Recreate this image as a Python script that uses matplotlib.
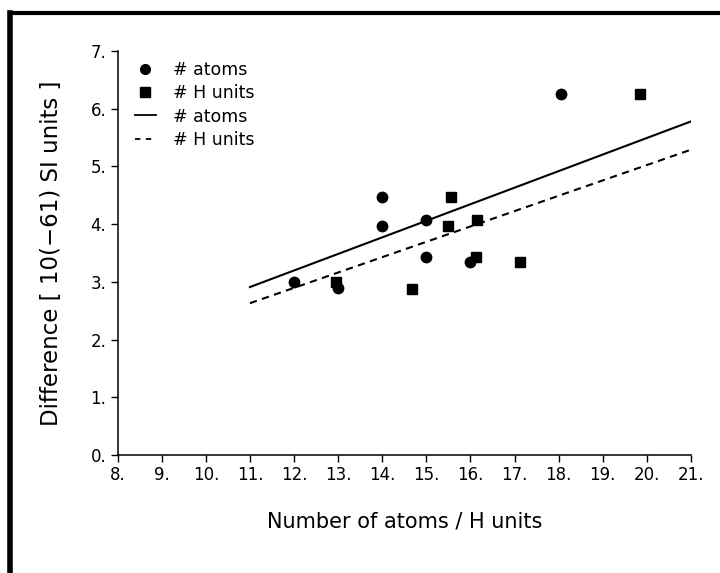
import matplotlib
matplotlib.use("Agg")
import matplotlib.pyplot as plt
from matplotlib.lines import Line2D

# data
atoms_x = [12.0, 13.0, 14.0, 14.0, 15.0, 15.0, 16.0, 18.05]
atoms_y = [3.0, 2.9, 4.47, 3.97, 4.07, 3.43, 3.35, 6.25]
hunits_x = [12.95, 14.67, 15.55, 15.5, 16.15, 16.12, 17.12, 19.85]
hunits_y = [3.0, 2.88, 4.47, 3.97, 4.07, 3.43, 3.35, 6.25]

fit_x = [11.0, 21.0]
fit_atoms = [2.91, 5.78]
fit_hunits = [2.63, 5.29]

x_ticks = list(range(8, 22))
y_ticks = list(range(0, 8))

W, H = 720, 573
fig = plt.figure(figsize=(W / 100, H / 100), dpi=100)
ax = fig.add_axes([117.6 / W, 1 - 455 / H, (691 - 117.6) / W, (455 - 51) / H])

ax.plot(atoms_x, atoms_y, 'o', color='black', markersize=7.5, zorder=3)
ax.plot(hunits_x, hunits_y, 's', color='black', markersize=7, zorder=3)
ax.plot(fit_x, fit_atoms, '-', color='black', lw=1.5)
ax.plot(fit_x, fit_hunits, '--', color='black', lw=1.5, dashes=(3.5, 2.6))

ax.set_xlim(8, 21)
ax.set_ylim(0, 7)
ax.set_xticks(x_ticks)
ax.set_xticklabels([f"{v}." for v in x_ticks])
ax.set_yticks(y_ticks)
ax.set_yticklabels([f"{v}." for v in y_ticks])
ax.tick_params(direction='out', length=5, width=1.0, labelsize=12, pad=3)
for s in ['top', 'right']:
    ax.spines[s].set_visible(False)
for s in ['left', 'bottom']:
    ax.spines[s].set_linewidth(1.1)

ax.set_xlabel("Number of atoms / H units", fontsize=15, labelpad=20)
ax.set_ylabel("Difference [ 10(\u221261) SI units ]", fontsize=16.5, labelpad=20)

handles = [
    Line2D([], [], ls='none', marker='o', color='black', markersize=7),
    Line2D([], [], ls='none', marker='s', color='black', markersize=6.5),
    Line2D([], [], ls='-', color='black', lw=1.3),
    Line2D([], [], ls='--', color='black', lw=1.3, dashes=(3, 3)),
]
labels = ["# atoms", "# H units", "# atoms", "# H units"]
ax.legend(handles, labels, loc='upper left', bbox_to_anchor=(0.03, 0.975),
          frameon=False, fontsize=12.5, borderpad=0, borderaxespad=0,
          handlelength=1.2, handletextpad=1.0, labelspacing=0.3)

# outer frame (left and top only)
fig.add_artist(Line2D([10 / W, 10 / W], [0, 1 - 13 / H], color='black', lw=4,
                      transform=fig.transFigure, solid_capstyle='projecting'))
fig.add_artist(Line2D([10 / W, 1], [1 - 13 / H, 1 - 13 / H], color='black', lw=3,
                      transform=fig.transFigure, solid_capstyle='projecting'))

fig.savefig("out.png", dpi=100)
